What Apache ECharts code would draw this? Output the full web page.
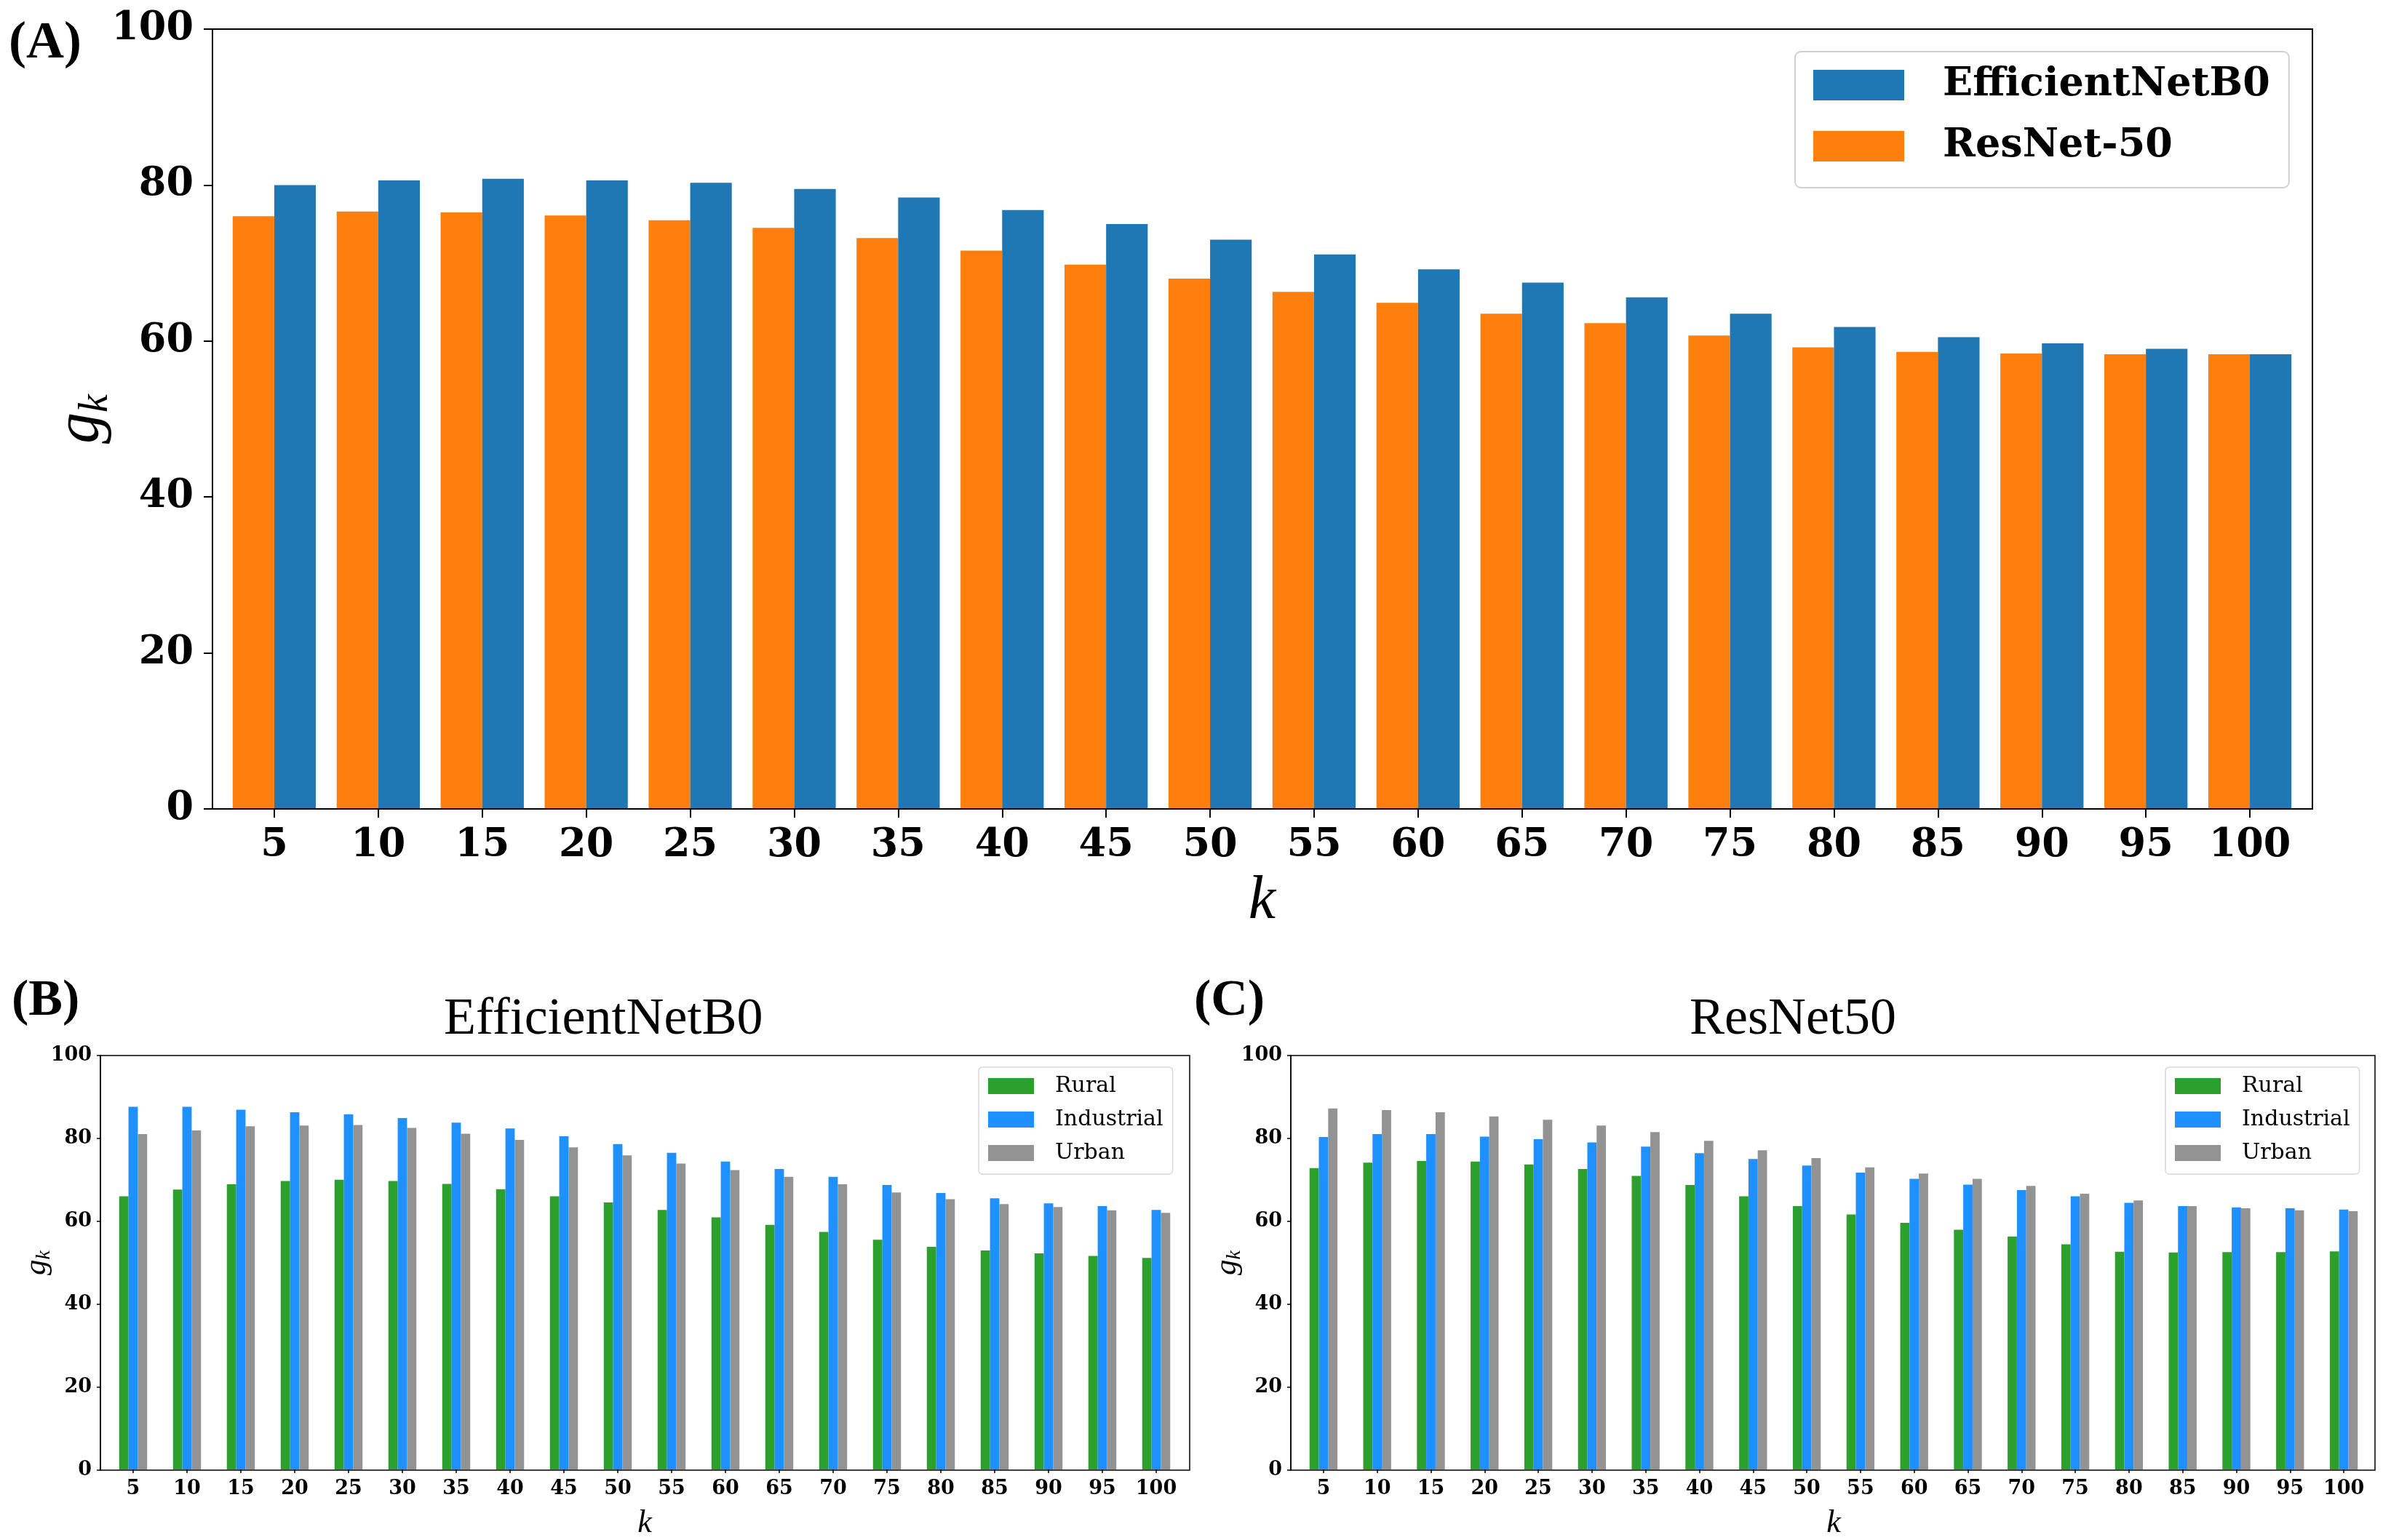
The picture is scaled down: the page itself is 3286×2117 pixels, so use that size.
<!DOCTYPE html>
<html>
<head>
<meta charset="utf-8">
<script src="https://cdn.jsdelivr.net/npm/echarts@6/dist/echarts.min.js"></script>
<style>html,body{margin:0;padding:0;background:#fff;}#c{width:3286px;height:2117px;}</style>
</head>
<body>
<div id="c"></div>
<script>
const kLabels = ['5','10','15','20','25','30','35','40','45','50','55','60','65','70','75','80','85','90','95','100'];
const yTicks = [0, 20, 40, 60, 80, 100];

// Panel A
const effNetA = [80.0,80.6,80.8,80.6,80.3,79.5,78.4,76.8,75.0,73.0,71.1,69.2,67.5,65.6,63.5,61.8,60.5,59.7,59.0,58.3];
const resNetA = [76.0,76.6,76.5,76.1,75.5,74.5,73.2,71.6,69.8,68.0,66.3,64.9,63.5,62.3,60.7,59.2,58.6,58.4,58.3,58.3];

// Panel B (EfficientNetB0)
const effRural      = [66.0,67.6,68.9,69.7,70.0,69.7,69.0,67.7,66.0,64.5,62.7,60.9,59.1,57.4,55.5,53.8,52.9,52.2,51.6,51.1];
const effIndustrial = [87.6,87.6,86.9,86.3,85.8,84.9,83.8,82.4,80.5,78.6,76.5,74.4,72.6,70.7,68.7,66.8,65.5,64.3,63.6,62.7];
const effUrban      = [81.0,81.9,82.9,83.1,83.2,82.5,81.1,79.6,77.8,75.9,73.9,72.3,70.7,68.9,66.9,65.3,64.1,63.4,62.6,62.0];

// Panel C (ResNet50)
const resRural      = [72.8,74.1,74.5,74.4,73.7,72.6,70.9,68.7,66.0,63.6,61.6,59.6,57.9,56.3,54.4,52.6,52.4,52.5,52.5,52.7];
const resIndustrial = [80.3,81.0,81.0,80.4,79.8,79.0,78.0,76.4,75.0,73.4,71.7,70.2,68.8,67.5,66.0,64.4,63.6,63.3,63.1,62.8];
const resUrban      = [87.2,86.8,86.3,85.3,84.5,83.1,81.5,79.4,77.1,75.2,73.0,71.5,70.2,68.5,66.6,65.0,63.6,63.1,62.6,62.4];

const C_BLUE = '#1f77b4', C_ORANGE = '#ff7f0e';
const C_GREEN = '#2ca02c', C_DBLUE = '#1e90ff', C_GRAY = '#939393';

const serifB = 'DejaVu Serif';
const serifR = 'Liberation Serif';

function frameY(gi, big) {
  return {
    type: 'value', gridIndex: gi, min: yTicks[0], max: yTicks[yTicks.length - 1], interval: yTicks[1] - yTicks[0],
    splitLine: {show: false},
    axisLine: {show: true, lineStyle: {color: '#000', width: big ? 2 : 1.5}},
    axisTick: {show: true, length: big ? 12 : 5, lineStyle: {color: '#000', width: big ? 2 : 1.5}},
    axisLabel: {color: '#000', fontFamily: serifB, fontWeight: 'bold', fontSize: big ? 54 : 27, margin: big ? 26 : 12},
    name: '{g|g}{k|k}', nameLocation: 'middle', nameRotate: 90, nameGap: big ? 132 : 63,
    nameMoveOverlap: false,
    nameTextStyle: {
      rich: {
        g: {fontFamily: serifR, fontStyle: 'italic', fontSize: big ? 86 : 43, color: '#000', verticalAlign: 'top', lineHeight: big ? 92 : 46},
        k: {fontFamily: serifR, fontStyle: 'italic', fontSize: big ? 56 : 28, color: '#000', verticalAlign: 'bottom', lineHeight: big ? 92 : 46}
      }
    }
  };
}
function frameX(gi) {
  return {type: 'category', gridIndex: gi, data: kLabels, show: false};
}
function dataX(gi, big) {
  return {
    type: 'category', gridIndex: gi, data: kLabels, boundaryGap: true,
    axisLine: {show: false},
    axisTick: {show: true, alignWithLabel: true, length: big ? 12 : 5, lineStyle: {color: '#000', width: big ? 2 : 1.5}},
    axisLabel: {color: '#000', fontFamily: serifB, fontWeight: 'bold', fontSize: big ? 54 : 27, margin: big ? 24 : 13, interval: 0},
    name: 'k', nameLocation: 'middle', nameGap: big ? 86 : 52,
    nameMoveOverlap: false,
    nameTextStyle: {fontFamily: serifR, fontStyle: 'italic', fontSize: big ? 84 : 44, color: '#000'}
  };
}
function dataY(gi) {
  return {type: 'value', gridIndex: gi, min: yTicks[0], max: yTicks[yTicks.length - 1], show: false, splitLine: {show: false}};
}
function bar(name, data, color, axis, gapCat) {
  return {
    type: 'bar', name: name, data: data, xAxisIndex: axis, yAxisIndex: axis,
    barGap: '0%', barCategoryGap: gapCat, itemStyle: {color: color}, emphasis: {disabled: true}
  };
}

const option = {
  animation: false,
  backgroundColor: '#fff',
  title: [
    {text: '(A)', left: 12, top: 24, padding: 0, textStyle: {fontFamily: serifR, fontWeight: 'bold', fontSize: 72, color: '#000'}},
    {text: '(B)', left: 16, top: 1342, padding: 0, textStyle: {fontFamily: serifR, fontWeight: 'bold', fontSize: 70, color: '#000'}},
    {text: '(C)', left: 1641, top: 1342, padding: 0, textStyle: {fontFamily: serifR, fontWeight: 'bold', fontSize: 70, color: '#000'}},
    {text: 'EfficientNetB0', left: 610, top: 1366, padding: 0, textStyle: {fontFamily: serifR, fontWeight: 'normal', fontSize: 72, color: '#000'}},
    {text: 'ResNet50', left: 2322, top: 1366, padding: 0, textStyle: {fontFamily: serifR, fontWeight: 'normal', fontSize: 72, color: '#000'}}
  ],
  legend: [
    {
      data: ['EfficientNetB0', 'ResNet-50'], orient: 'vertical', left: 2467, top: 71,
      icon: 'rect', itemWidth: 125, itemHeight: 42, itemGap: 20,
      padding: [14, 26, 25, 25], backgroundColor: '#fff', borderColor: '#d0d0d0', borderWidth: 2, borderRadius: 8,
      textStyle: {fontFamily: serifB, fontWeight: 'bold', fontSize: 54, color: '#000', lineHeight: 64, padding: [0, 0, 0, 48]},
      selectedMode: false
    },
    {
      data: ['Rural', 'Industrial', 'Urban'], orient: 'vertical', left: 1345, top: 1467,
      icon: 'rect', itemWidth: 63, itemHeight: 22, itemGap: 12,
      padding: [9, 13, 12, 13], backgroundColor: '#fff', borderColor: '#d8d8d8', borderWidth: 1.5, borderRadius: 5,
      textStyle: {fontFamily: serifB, fontSize: 30, color: '#000', lineHeight: 34, padding: [0, 0, 0, 24]},
      selectedMode: false
    },
    {
      data: ['Rural', 'Industrial', 'Urban'], orient: 'vertical', left: 2976, top: 1467,
      icon: 'rect', itemWidth: 63, itemHeight: 22, itemGap: 12,
      padding: [9, 13, 12, 13], backgroundColor: '#fff', borderColor: '#d8d8d8', borderWidth: 1.5, borderRadius: 5,
      textStyle: {fontFamily: serifB, fontSize: 30, color: '#000', lineHeight: 34, padding: [0, 0, 0, 24]},
      selectedMode: false
    }
  ],
  grid: [
    {left: 292, top: 40, width: 2886, height: 1072, show: true, borderColor: '#000', borderWidth: 2, z: 5, backgroundColor: 'transparent'},
    {left: 305.5, top: 40, width: 2858, height: 1072},
    {left: 138, top: 1451, width: 1497, height: 570, show: true, borderColor: '#000', borderWidth: 1.5, z: 5, backgroundColor: 'transparent'},
    {left: 146, top: 1451, width: 1480, height: 570},
    {left: 1774, top: 1451, width: 1490, height: 570, show: true, borderColor: '#000', borderWidth: 1.5, z: 5, backgroundColor: 'transparent'},
    {left: 1782, top: 1451, width: 1476, height: 570}
  ],
  xAxis: [frameX(0), dataX(1, true), frameX(2), dataX(3, false), frameX(4), dataX(5, false)],
  yAxis: [frameY(0, true), dataY(1), frameY(2, false), dataY(3), frameY(4, false), dataY(5)],
  series: [
    bar('ResNet-50', resNetA, C_ORANGE, 1, '20%'),
    bar('EfficientNetB0', effNetA, C_BLUE, 1, '20%'),
    bar('Rural', effRural, C_GREEN, 3, '48%'),
    bar('Industrial', effIndustrial, C_DBLUE, 3, '48%'),
    bar('Urban', effUrban, C_GRAY, 3, '48%'),
    bar('Rural', resRural, C_GREEN, 5, '48%'),
    bar('Industrial', resIndustrial, C_DBLUE, 5, '48%'),
    bar('Urban', resUrban, C_GRAY, 5, '48%')
  ]
};
const chart = echarts.init(document.getElementById('c'));
chart.setOption(option);
</script>
</body>
</html>
